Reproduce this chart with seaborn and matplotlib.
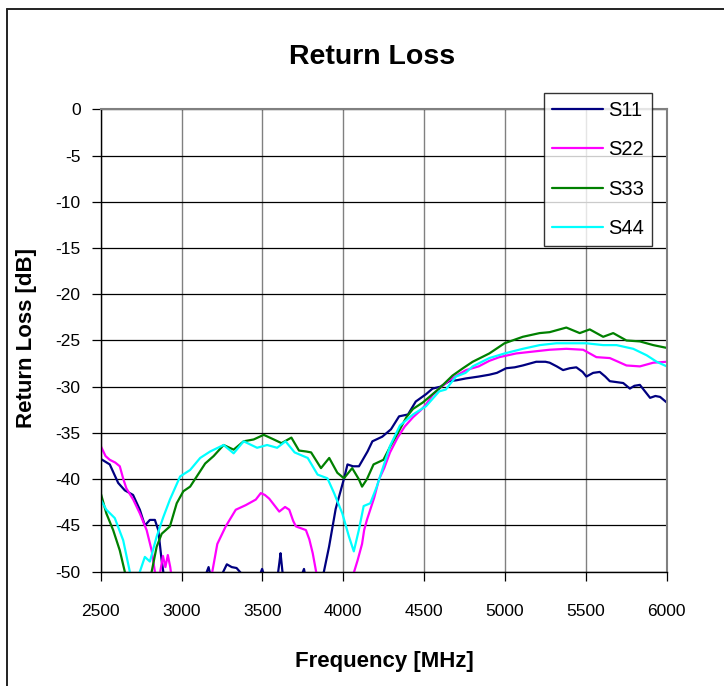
import numpy as np
import pandas as pd
import seaborn as sns
import matplotlib.pyplot as plt
from matplotlib.lines import Line2D

# values (frequency in MHz, return loss in dB)
# points below -50 dB are clipped by the axis, just like the original
s11_freq = [2500, 2556, 2608, 2649, 2700, 2742, 2773, 2804, 2835, 2856, 2877, 2887, 2900, 3000,
            3100, 3150, 3167, 3180, 3230, 3280, 3310, 3340, 3370, 3420, 3470, 3498, 3520, 3590,
            3605, 3612, 3625, 3680, 3740, 3757, 3770, 3830, 3880, 3912, 3953, 4005, 4026, 4060,
            4097, 4150, 4180, 4241, 4295, 4345, 4400, 4448, 4512, 4552, 4600, 4655, 4700, 4759,
            4837, 4903, 4950, 5007, 5060, 5110, 5193, 5250, 5276, 5320, 5359, 5400, 5441, 5480,
            5503, 5545, 5586, 5620, 5648, 5690, 5731, 5772, 5800, 5834, 5870, 5897, 5930, 5959, 6000]
s11_db = [-37.8, -38.4, -40.4, -41.2, -41.7, -43.3, -45.0, -44.4, -44.4, -45.5, -48.8, -50.0, -52, -55,
          -53, -50.3, -49.5, -50.5, -51, -49.2, -49.5, -49.6, -50.2, -50.5, -51, -49.7, -51, -51,
          -49, -48, -50.2, -51, -50.5, -49.7, -51, -52, -50, -47.3, -43.2, -39.9, -38.4, -38.6,
          -38.6, -37.0, -35.9, -35.4, -34.6, -33.2, -33.0, -31.6, -30.8, -30.2, -30.0, -29.4, -29.3, -29.1,
          -28.9, -28.7, -28.5, -28.0, -27.9, -27.7, -27.3, -27.3, -27.4, -27.8, -28.2, -28.0, -27.9, -28.4,
          -28.9, -28.5, -28.4, -28.9, -29.4, -29.5, -29.6, -30.2, -29.9, -29.8, -30.6, -31.2, -31.0, -31.1, -31.7]

s22_freq = [2500, 2530, 2556, 2590, 2618, 2640, 2659, 2701, 2742, 2784, 2815, 2835, 2850, 2868,
            2885, 2900, 2915, 2930, 2945, 3000, 3100, 3180, 3190, 3221, 3273, 3335, 3397, 3459,
            3490, 3515, 3542, 3604, 3640, 3666, 3690, 3707, 3769, 3790, 3811, 3832, 3850, 3950,
            4050, 4067, 4088, 4116, 4129, 4146, 4191, 4221, 4253, 4289, 4336, 4380, 4431, 4481,
            4512, 4552, 4600, 4655, 4700, 4759, 4837, 4903, 4965, 5069, 5172, 5276, 5379, 5483,
            5565, 5648, 5700, 5751, 5834, 5917, 6000]
s22_db = [-36.4, -37.5, -37.9, -38.2, -38.6, -40.0, -41.0, -42.2, -43.7, -45.5, -47.7, -50.0, -51, -50,
          -48.3, -49.5, -48.2, -49.5, -51.5, -55, -54, -51, -50, -47.0, -45.1, -43.3, -42.8, -42.2,
          -41.5, -41.7, -42.1, -43.5, -43.0, -43.3, -44.5, -45.1, -45.5, -46.5, -48.0, -50.0, -52, -56,
          -52, -50, -48.8, -47.0, -45.5, -44.4, -42.0, -40.0, -38.8, -37.1, -35.5, -34.3, -33.3, -32.5,
          -31.9, -30.9, -30.1, -29.3, -28.8, -28.2, -27.8, -27.2, -26.8, -26.4, -26.2, -26.0, -25.9, -26.0,
          -26.8, -26.9, -27.3, -27.7, -27.8, -27.4, -27.3]

s33_freq = [2500, 2535, 2577, 2618, 2649, 2680, 2750, 2800, 2815, 2846, 2877, 2928, 2970, 3011,
            3053, 3094, 3146, 3198, 3260, 3322, 3384, 3446, 3508, 3570, 3618, 3679, 3726, 3770,
            3801, 3862, 3913, 3963, 4004, 4055, 4096, 4116, 4146, 4187, 4248, 4289, 4350, 4390,
            4431, 4492, 4593, 4675, 4740, 4800, 4903, 4997, 5110, 5214, 5276, 5379, 5462, 5524,
            5607, 5669, 5751, 5834, 5917, 6000]
s33_db = [-41.5, -43.7, -45.5, -47.7, -50.0, -53, -55, -52, -50, -47.3, -45.9, -45.1, -42.6, -41.3,
          -40.8, -39.7, -38.3, -37.5, -36.3, -36.8, -35.9, -35.7, -35.2, -35.7, -36.1, -35.5, -36.9, -37.0,
          -37.1, -38.8, -37.7, -39.3, -39.9, -38.8, -40.0, -40.8, -40.0, -38.4, -37.9, -36.5, -34.6, -33.3,
          -32.4, -31.7, -30.2, -28.8, -28.0, -27.3, -26.4, -25.3, -24.6, -24.2, -24.1, -23.6, -24.2, -23.8,
          -24.6, -24.2, -25.0, -25.1, -25.5, -25.8]

s44_freq = [2500, 2535, 2587, 2639, 2680, 2700, 2720, 2742, 2773, 2804, 2846, 2887, 2928, 2991,
            3053, 3115, 3177, 3260, 3322, 3384, 3467, 3529, 3591, 3643, 3699, 3780, 3841, 3902,
            3943, 3994, 4035, 4065, 4096, 4126, 4167, 4207, 4248, 4289, 4350, 4431, 4512, 4593,
            4634, 4697, 4756, 4800, 4903, 4997, 5110, 5214, 5317, 5421, 5503, 5607, 5690, 5793,
            5876, 5938, 6000]
s44_db = [-42.2, -43.3, -44.2, -46.6, -50.0, -51.5, -51, -50.0, -48.4, -48.9, -46.2, -44.1, -42.2, -39.7,
          -39.0, -37.7, -37.0, -36.3, -37.2, -35.9, -36.6, -36.3, -36.6, -35.9, -37.1, -37.7, -39.5, -39.9,
          -41.5, -43.7, -46.2, -47.8, -45.5, -42.9, -42.6, -40.8, -38.6, -36.4, -34.2, -33.0, -32.1, -30.5,
          -30.3, -28.9, -28.5, -27.8, -26.9, -26.4, -25.9, -25.5, -25.3, -25.3, -25.3, -25.5, -25.5, -25.9,
          -26.6, -27.3, -27.8]

series = ['S11', 'S22', 'S33', 'S44']
colors = ['#000080', '#FF00FF', '#008000', '#00FFFF']
x_ticks = [2500, 3000, 3500, 4000, 4500, 5000, 5500, 6000]
y_ticks = [0, -5, -10, -15, -20, -25, -30, -35, -40, -45, -50]

# long form table for seaborn
frames = []
for name, f, v in zip(series, [s11_freq, s22_freq, s33_freq, s44_freq], [s11_db, s22_db, s33_db, s44_db]):
    frames.append(pd.DataFrame({'freq': f, 'db': v, 'port': name}))
df = pd.concat(frames, ignore_index=True)

sns.set_style('white')
plt.rcParams['font.family'] = ['Liberation Sans', 'DejaVu Sans']
plt.rcParams['axes.unicode_minus'] = False
plt.rcParams['text.color'] = 'black'
plt.rcParams['axes.labelcolor'] = 'black'
plt.rcParams['xtick.color'] = 'black'
plt.rcParams['ytick.color'] = 'black'

fig = plt.figure(figsize=(7.24, 6.86), dpi=100)
ax = fig.add_axes([0.1391, 0.1666, 0.7818, 0.6741])

sns.lineplot(data=df, x='freq', y='db', hue='port', palette=colors, estimator=None,
             linewidth=1.6, ax=ax, legend=False)

ax.set_xlim(2500, 6000)
ax.set_ylim(-50, 0)
ax.set_xticks(x_ticks)
ax.set_yticks(y_ticks)
ax.set_xlabel('')
ax.set_ylabel('')

ax.set_axisbelow(True)
ax.xaxis.grid(True, color='#808080', linewidth=1.0)
ax.yaxis.grid(True, color='black', linewidth=0.9)

for side in ['top', 'right']:
    ax.spines[side].set_color('#808080')
    ax.spines[side].set_linewidth(1.5)
for side in ['left', 'bottom']:
    ax.spines[side].set_color('black')
    ax.spines[side].set_linewidth(1.0)

ax.tick_params(axis='both', direction='out', length=6.5, width=0.9, color='black',
               labelcolor='black', labelsize=12.5, left=True, bottom=True)
ax.tick_params(axis='x', pad=17)
ax.tick_params(axis='y', pad=8)

# legend
handles = [Line2D([0], [0], color=c, linewidth=1.6) for c in colors]
leg = fig.legend(handles, series, loc='upper left', bbox_to_anchor=(544.3 / 724, 1 - 93.3 / 686),
                 bbox_transform=fig.transFigure, frameon=True, fancybox=False, shadow=False,
                 fontsize=14.5, handlelength=2.5, handletextpad=0.25, labelspacing=1.0,
                 borderpad=0.4, borderaxespad=0)
leg.get_frame().set_edgecolor('black')
leg.get_frame().set_linewidth(1.0)
for t in leg.get_texts():
    t.set_color('black')

fig.text(372 / 724, 1 - 57 / 686, 'Return Loss', ha='center', va='center',
         fontsize=20.5, fontweight='bold', color='black')
fig.text(384 / 724, 1 - 661 / 686, 'Frequency [MHz]', ha='center', va='center',
         fontsize=16, fontweight='bold', color='black')
fig.text(27 / 724, 1 - 338 / 686, 'Return Loss [dB]', ha='center', va='center',
         rotation=90, fontsize=16, fontweight='bold', color='black')

# chart area border (top and left edges visible in the reference)
x0 = 6.7 / 724
y0 = 1 - 9.3 / 686
fig.add_artist(Line2D([x0, x0], [0, y0], color='#222222', linewidth=1.4, transform=fig.transFigure))
fig.add_artist(Line2D([x0, 1], [y0, y0], color='#222222', linewidth=1.4, transform=fig.transFigure))

fig.savefig('out.png', dpi=100)
